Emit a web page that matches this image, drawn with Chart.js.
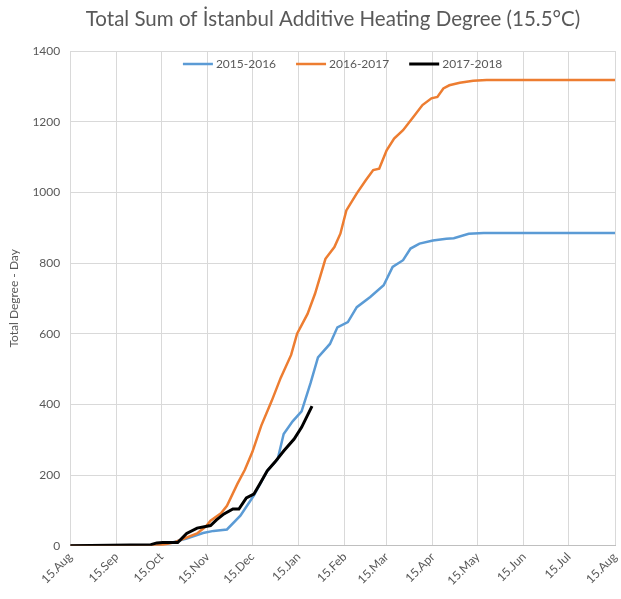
<!DOCTYPE html>
<html>
<head>
<meta charset="utf-8">
<script src="https://cdn.jsdelivr.net/npm/chart.js@4"></script>
<style>
  body { margin: 0; background: #fff; }
  #wrap { width: 621px; height: 599px; }
</style>
</head>
<body>
<div id="wrap"><canvas id="heatChart"></canvas></div>
<script>
// days counted from 15 Aug
const monthDays = [0, 31, 61, 92, 122, 153, 184, 212, 243, 273, 304, 334, 365];
const monthLabels = ['15.Aug', '15.Sep', '15.Oct', '15.Nov', '15.Dec', '15.Jan', '15.Feb',
  '15.Mar', '15.Apr', '15.May', '15.Jun', '15.Jul', '15.Aug'];

const days1516 = [0, 57, 61, 69, 78, 89, 96, 105, 114, 123, 132, 139, 143, 149, 155, 161, 166, 174, 179, 186, 192, 201, 210, 216, 223, 228, 234, 243, 252, 257, 267, 277, 365];
const sum1516 = [0, 0, 4, 10, 20, 36, 42, 46, 85, 142, 212, 245, 316, 352, 380, 460, 533, 571, 618, 633, 675, 704, 737, 789, 808, 841, 855, 864, 869, 870, 883, 885, 885];

const days1617 = [0, 56, 62, 70, 85, 91, 94, 101, 105, 112, 117, 122, 128, 135, 141, 148, 152, 159, 164, 171, 177, 181, 185, 192, 198, 203, 207, 212, 217, 223, 230, 236, 242, 246, 250, 254, 261, 270, 279, 365];
const sum1617 = [0, 0, 3, 10, 35, 55, 71, 92, 113, 175, 215, 265, 340, 410, 475, 540, 600, 656, 713, 812, 845, 883, 949, 997, 1034, 1063, 1067, 1119, 1152, 1176, 1214, 1247, 1266, 1270, 1294, 1303, 1310, 1316, 1318, 1318];

const days1718 = [0, 54, 58, 62, 72, 78, 85, 94, 98, 103, 109, 113, 118, 123, 127, 132, 137, 143, 150, 155, 162];
const sum1718 = [0, 3, 8, 9, 9, 35, 50, 57, 73, 90, 104, 104, 135, 146, 175, 212, 236, 268, 302, 335, 395];

const chartTitle = 'Total Sum of İstanbul Additive Heating Degree (15.5°C)';

function toPoints(days, vals) {
  return days.map((d, i) => ({ x: d, y: vals[i] }));
}

const grey = '#595959';
const gridColor = '#d9d9d9';

// title over the plot + horizontal legend inside the top of the plot area
const titleAndLegend = {
  id: 'titleAndLegend',
  afterDraw(chart) {
    const ctx = chart.ctx;
    const area = chart.chartArea;
    const sets = chart.data.datasets;
    ctx.save();
    ctx.fillStyle = grey;
    ctx.textBaseline = 'middle';
    ctx.textAlign = 'center';
    ctx.font = '20.5px Lato';
    ctx.fillText(chartTitle, 333, 19);

    ctx.textAlign = 'left';
    ctx.font = '12px Lato';
    const lineW = 30, gap = 3, itemGap = 20;
    const widths = sets.map(ds => lineW + gap + ctx.measureText(ds.label).width);
    const total = widths.reduce((a, b) => a + b, 0) + itemGap * (sets.length - 1);
    let x = (area.left + area.right) / 2 - total / 2;
    const y = area.top + 13;
    sets.forEach((ds, i) => {
      ctx.strokeStyle = ds.borderColor;
      ctx.lineWidth = ds.borderWidth;
      ctx.beginPath();
      ctx.moveTo(x, y);
      ctx.lineTo(x + lineW, y);
      ctx.stroke();
      ctx.fillText(ds.label, x + lineW + gap, y);
      x += widths[i] + itemGap;
    });
    ctx.restore();
  }
};

new Chart(document.getElementById('heatChart'), {
  type: 'line',
  data: {
    datasets: [
      { label: '2015-2016', data: toPoints(days1516, sum1516), borderColor: '#5B9BD5', borderWidth: 2.5, order: 3 },
      { label: '2016-2017', data: toPoints(days1617, sum1617), borderColor: '#ED7D31', borderWidth: 2.5, order: 2 },
      { label: '2017-2018', data: toPoints(days1718, sum1718), borderColor: '#000000', borderWidth: 3, order: 1 }
    ]
  },
  options: {
    responsive: true,
    maintainAspectRatio: false,
    animation: false,
    elements: { point: { radius: 0 }, line: { tension: 0 } },
    layout: { padding: { left: 3, right: 6, top: 51, bottom: 7 } },
    scales: {
      x: {
        type: 'linear',
        min: 0,
        max: 365,
        afterBuildTicks: (scale) => { scale.ticks = monthDays.map(v => ({ value: v })); },
        afterFit: (scale) => { scale.paddingRight = 0; },
        ticks: {
          autoSkip: false,
          maxRotation: 45,
          minRotation: 45,
          color: grey,
          font: { family: 'Lato', size: 12 },
          padding: 4,
          callback: (value, index) => monthLabels[index]
        },
        grid: { color: gridColor, drawTicks: false },
        border: { color: '#bfbfbf' }
      },
      y: {
        min: 0,
        max: 1400,
        ticks: {
          stepSize: 200,
          color: grey,
          font: { family: 'Lato', size: 12 },
          padding: 10,
          callback: (value) => String(value)
        },
        grid: { color: gridColor, drawTicks: false },
        border: { display: false },
        title: {
          display: true,
          text: 'Total Degree - Day',
          color: grey,
          font: { family: 'Lato', size: 12 },
          padding: { top: 4, bottom: 1 }
        }
      }
    },
    plugins: {
      title: { display: false },
      legend: { display: false },
      tooltip: { enabled: false }
    }
  },
  plugins: [titleAndLegend]
});
</script>
</body>
</html>
